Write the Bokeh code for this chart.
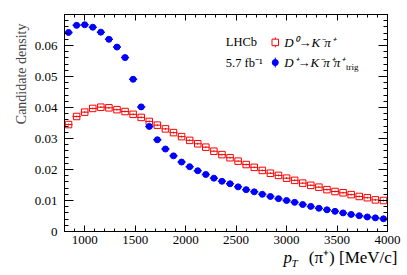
import numpy as np
from bokeh.plotting import figure
from bokeh.models import (Range1d, FixedTicker, LinearAxis, Label, Title, CustomJSTickFormatter)
from bokeh.embed import file_html
from bokeh.resources import INLINE

# ---- data ----
bin_centers = [840 + 80 * i for i in range(40)]
bin_half_width = 40
d0_density = [0.0345, 0.0371, 0.0385, 0.0397, 0.0401, 0.0399, 0.0393, 0.0387, 0.0378, 0.0368,
              0.0355, 0.0343, 0.0331, 0.0319, 0.0306, 0.0294, 0.0283, 0.0272, 0.0259, 0.0248,
              0.0238, 0.0227, 0.0216, 0.0207, 0.0197, 0.0188, 0.0181, 0.0172, 0.0165, 0.0156,
              0.0149, 0.0143, 0.0135, 0.0129, 0.0125, 0.0119, 0.0113, 0.0109, 0.0102, 0.0100]
dp_density = [0.0642, 0.0665, 0.0667, 0.0659, 0.0643, 0.0620, 0.0595, 0.0561, 0.0491, 0.0402,
              0.0339, 0.0296, 0.0266, 0.0244, 0.0224, 0.0209, 0.0196, 0.0184, 0.0172, 0.0162,
              0.0154, 0.0144, 0.0135, 0.0128, 0.0120, 0.0113, 0.0106, 0.0100, 0.0094, 0.0087,
              0.0081, 0.0075, 0.0070, 0.0065, 0.0060, 0.0055, 0.0051, 0.0047, 0.0044, 0.0041]
y_err = 0.0003
x_major = [1000, 1500, 2000, 2500, 3000, 3500, 4000]
x_minor = list(range(800, 4001, 100))
y_major = [0.0, 0.01, 0.02, 0.03, 0.04, 0.05, 0.06]
y_minor = [round(0.002 * i, 3) for i in range(36)]

FONT = "Liberation Serif"
RED = "#ff0000"
BLUE = "#0000ff"

p = figure(width=403, height=272, output_backend="svg", toolbar_location=None,
           x_range=Range1d(800, 4000), y_range=Range1d(0, 0.07),
           min_border_left=61, min_border_right=16, min_border_top=14, min_border_bottom=41)
p.grid.visible = False
p.outline_line_color = "black"
p.background_fill_color = "white"
p.border_fill_color = "white"

xt = FixedTicker(ticks=x_major, minor_ticks=x_minor)
yt = FixedTicker(ticks=y_major, minor_ticks=y_minor)
blank = CustomJSTickFormatter(code="return '';")

def style_axis(ax, tin, tmin, labels=True):
    ax.major_tick_in = tin
    ax.major_tick_out = 0
    ax.minor_tick_in = tmin
    ax.minor_tick_out = 0
    ax.axis_line_color = "black"
    ax.major_tick_line_color = "black"
    ax.minor_tick_line_color = "black"
    ax.major_label_text_font = FONT
    ax.major_label_text_font_size = "13px"
    ax.major_label_text_color = "black"
    if not labels:
        ax.major_label_standoff = 0
        ax.formatter = blank

p.xaxis.ticker = xt
p.yaxis.ticker = yt
style_axis(p.xaxis[0], 6, 3)
style_axis(p.yaxis[0], 9, 4)
p.xaxis.major_label_standoff = 4
p.yaxis.major_label_standoff = 7
p.yaxis.formatter = CustomJSTickFormatter(code="return tick === 0 ? '0' : tick.toFixed(2);")

top = LinearAxis(ticker=xt)
style_axis(top, 6, 3, labels=False)
p.add_layout(top, "above")
right = LinearAxis(ticker=yt)
style_axis(right, 9, 4, labels=False)
p.add_layout(right, "right")

xs = np.array(bin_centers, dtype=float)
d0 = np.array(d0_density)
dp = np.array(dp_density)

# D0 (red open squares)
p.segment(xs - bin_half_width, d0, xs + bin_half_width, d0, line_color=RED, line_width=1)
p.segment(xs, d0 - y_err, xs, d0 + y_err, line_color=RED, line_width=1)
p.scatter(xs, d0, marker="square", size=6.5, fill_color="white", fill_alpha=0,
          line_color=RED, line_width=1)
# D+ (blue filled circles)
p.segment(xs - bin_half_width, dp, xs + bin_half_width, dp, line_color=BLUE, line_width=1.5)
p.segment(xs, dp - y_err, xs, dp + y_err, line_color=BLUE, line_width=1.5)
p.scatter(xs, dp, marker="circle", size=6, fill_color=BLUE, line_color=BLUE)

# legend
lx = 2888
ly1, ly2 = 0.0610, 0.0545
p.segment([lx, lx], [ly1 - 0.0016, ly2 - 0.0016], [lx, lx], [ly1 + 0.0016, ly2 + 0.0016],
          line_color=[RED, BLUE], line_width=1)
p.scatter([lx], [ly1], marker="square", size=6.5, fill_color="white", line_color=RED)
p.scatter([lx], [ly2], marker="circle", size=6, fill_color=BLUE, line_color=BLUE)

def lab(x, y, text, size="12px", style="normal", align="left", baseline="middle",
        angle=0, units="data", place=None):
    l = Label(x=x, y=y, text=text, text_font=FONT, text_font_size=size,
              text_font_style=style, text_align=align, text_baseline=baseline,
              angle=angle, text_color="black", x_units=units, y_units=units)
    if place is None:
        p.add_layout(l)
    else:
        p.add_layout(l, place)

lab(2398, ly1, "LHCb", size="12.5px")
lab(2398, ly2, "5.7 fb⁻¹", size="12.5px")
lab(2976, ly1, "D⁰→K⁻π⁺", size="13px", style="italic")
lab(2976, ly2, "D⁺→K⁻π⁺π⁺", size="13px", style="italic")
lab(3590, ly2 - 0.0013, "trig", size="9px")

# y-axis title
p.add_layout(Title(text="Candidate density", align="right", text_font=FONT,
                   text_font_size="14px", text_font_style="normal", standoff=5,
                   offset=9), "left")

# x-axis title (labels in side panels, canvas pixel units)
lab(397, 257, "(π⁺) [MeV/c]", size="17px", align="right", units="canvas", place="below")
lab(283, 257, "p", size="17px", style="italic", units="canvas", place="left")
lab(291, 262, "T", size="11px", style="italic", units="canvas", place="right")

open("out.html", "w").write(file_html(p, INLINE))
